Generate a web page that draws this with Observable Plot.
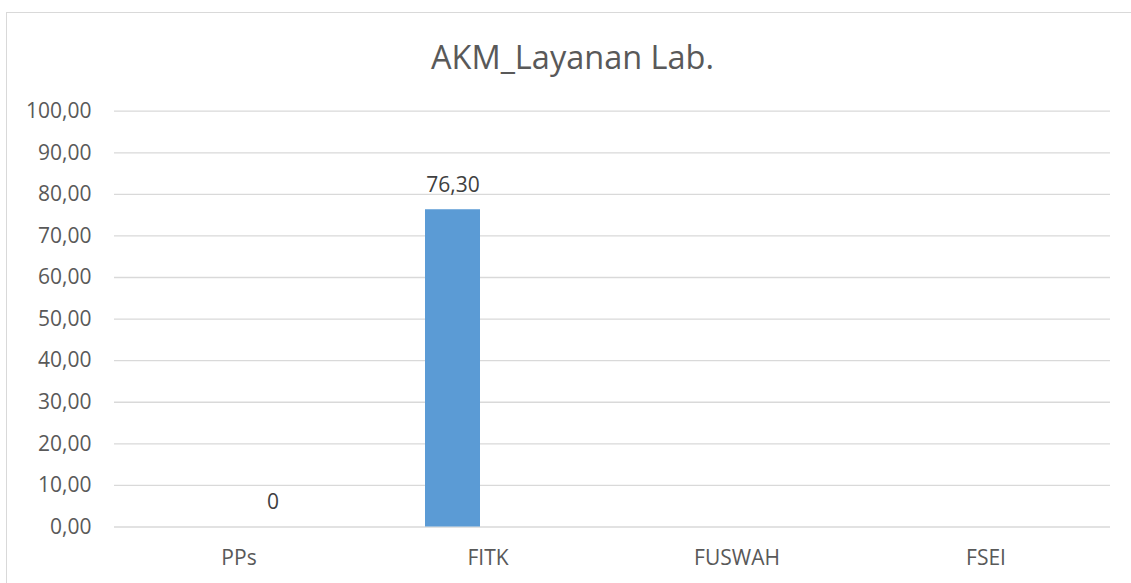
<!DOCTYPE html>
<html>
<head>
<meta charset="utf-8">
<script src="https://cdn.jsdelivr.net/npm/d3@7"></script>
<script src="https://cdn.jsdelivr.net/npm/@observablehq/plot@0.6"></script>
<style>
  body { margin: 0; background: #fff; }
  #wrap { position: relative; width: 1131px; height: 583px; overflow: hidden; font-family: "Open Sans", sans-serif; }
  #frame { position: absolute; left: 6px; top: 12px; width: 1300px; height: 800px; border: 1.5px solid #d9d9d9; box-sizing: border-box; }
  #title { position: absolute; left: 7px; width: 1131px; top: 34px; text-align: center; font-size: 32.5px; color: #595959; white-space: nowrap; }
  #chart { position: absolute; left: 0; top: 0; }
</style>
</head>
<body>
<div id="wrap">
  <div id="frame"></div>
  <div id="chart"></div>
  <div id="title"></div>
</div>
<script>
const title = "AKM_Layanan Lab.";
const categories = ["PPs", "FITK", "FUSWAH", "FSEI"];
const seriesNames = ["Seri 1", "Seri 2"];
const series1Values = [null, 76.30, null, null];
const series2Values = [0, null, null, null];
const yTicks = [0, 10, 20, 30, 40, 50, 60, 70, 80, 90, 100];

const commaFixed2 = v => d3.format(".2f")(v).replace(".", ",");
const general = v => String(v).replace(".", ",");

const data = [];
categories.forEach((c, i) => {
  const v1 = series1Values[i], v2 = series2Values[i];
  data.push({category: c, series: seriesNames[0], value: v1, label: v1 == null ? null : commaFixed2(v1)});
  data.push({category: c, series: seriesNames[1], value: v2, label: v2 == null ? null : general(v2)});
});

document.getElementById("title").textContent = title;

const chart = Plot.plot({
  width: 1131,
  height: 583,
  marginLeft: 113,
  marginRight: 20,
  marginTop: 110.7,
  marginBottom: 56.5,
  style: { fontFamily: "Open Sans, sans-serif", background: "transparent", overflow: "visible" },
  fx: { domain: categories, padding: 0, label: null },
  x: { domain: seriesNames, paddingInner: 0.2, paddingOuter: 0.882, axis: null },
  y: { domain: [0, 100], label: null },
  marks: [
    Plot.ruleY(yTicks, { stroke: "#d9d9d9", strokeWidth: 1.3 }),
    Plot.axisY(yTicks, { tickSize: 0, tickPadding: 23, tickFormat: commaFixed2, fontSize: 21, fill: "#595959", label: null }),
    Plot.axisFx({ anchor: "bottom", tickSize: 0, tickPadding: 23, fontSize: 21, fill: "#595959", label: null }),
    Plot.barY(data, { fx: "category", x: "series", y: "value", fill: "#5B9BD5" }),
    Plot.text(data, { fx: "category", x: "series", y: "value", text: "label", lineAnchor: "bottom", dy: -18, fontSize: 21, fill: "#404040" })
  ]
});
document.getElementById("chart").appendChild(chart);
</script>
</body>
</html>
